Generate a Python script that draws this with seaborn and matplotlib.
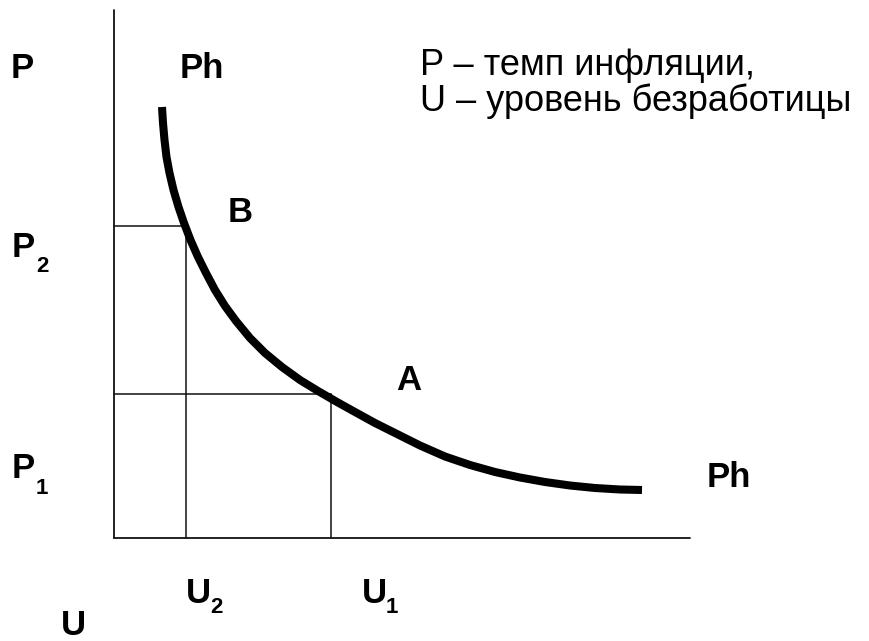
import matplotlib
matplotlib.use("Agg")
import matplotlib.pyplot as plt
import seaborn as sns

# Phillips curve (origin = axis corner)
curve_u = [48, 49, 50.5, 52.5, 55.5, 59.5, 64.5, 70, 76.5, 84, 92, 101, 111, 122, 136, 151, 168,
           186, 204, 223, 241, 261, 284, 306, 331, 356, 381, 406, 431, 456, 481, 506, 528]
curve_p = [431, 415, 398, 381, 365, 348, 331, 315, 298, 281, 265, 248, 232, 217, 200, 185, 171,
           158, 147, 136, 126, 115, 103.5, 92.5, 81.5, 73, 66, 60.5, 56, 52.5, 50, 48.5, 48]

# points B and A
point_u = [72, 217]
point_p = [312, 144]

# axis extents
axis_top = 528
axis_right = 576

# labels: (text, u, p, size)
labels = [
    ("P", -103, 460, 25),
    ("Ph", 66, 460, 25),
    ("B", 114, 316, 25),
    ("P", -102, 281, 25),
    ("2", -78, 266, 16),
    ("A", 282, 148, 25),
    ("P", -102, 60, 25),
    ("1", -78, 44, 16),
    ("Ph", 593, 51, 25),
    ("U", 72, -65, 25),
    ("2", 96, -75, 16),
    ("U", 248, -65, 25),
    ("1", 272, -75, 16),
    ("U", -53, -97, 25),
]
legend_lines = ["P – темп инфляции,", "U – уровень безработицы"]
legend_p = [463, 427]

sns.set_theme(style="white")
plt.rcParams['font.family'] = ['Liberation Sans', 'DejaVu Sans']

fig = plt.figure(figsize=(8.69, 6.41), dpi=100)
ax = fig.add_axes([0, 0, 1, 1])
ax.set_xlim(-114, 755)
ax.set_ylim(-103, 538)
ax.axis("off")

# axes
ax.plot([0, 0], [0, axis_top], color="#111111", lw=1.3)
ax.plot([0, axis_right], [0, 0], color="#111111", lw=1.3)

# guide lines to B and A
for u, p in zip(point_u, point_p):
    ax.plot([0, u], [p, p], color="#111111", lw=1.1)
    ax.plot([u, u], [0, p], color="#111111", lw=1.1)

# the curve
sns.lineplot(x=curve_u, y=curve_p, sort=False, estimator=None, color="black",
             lw=5.8, ax=ax, solid_capstyle="butt", solid_joinstyle="round")

for text, u, p, size in labels:
    ax.text(u, p, text, fontsize=size, fontweight="bold", color="black",
            ha="left", va="baseline")

for text, p in zip(legend_lines, legend_p):
    ax.text(306, p, text, fontsize=26, color="black", ha="left", va="baseline")

fig.savefig("out.png", dpi=100)
